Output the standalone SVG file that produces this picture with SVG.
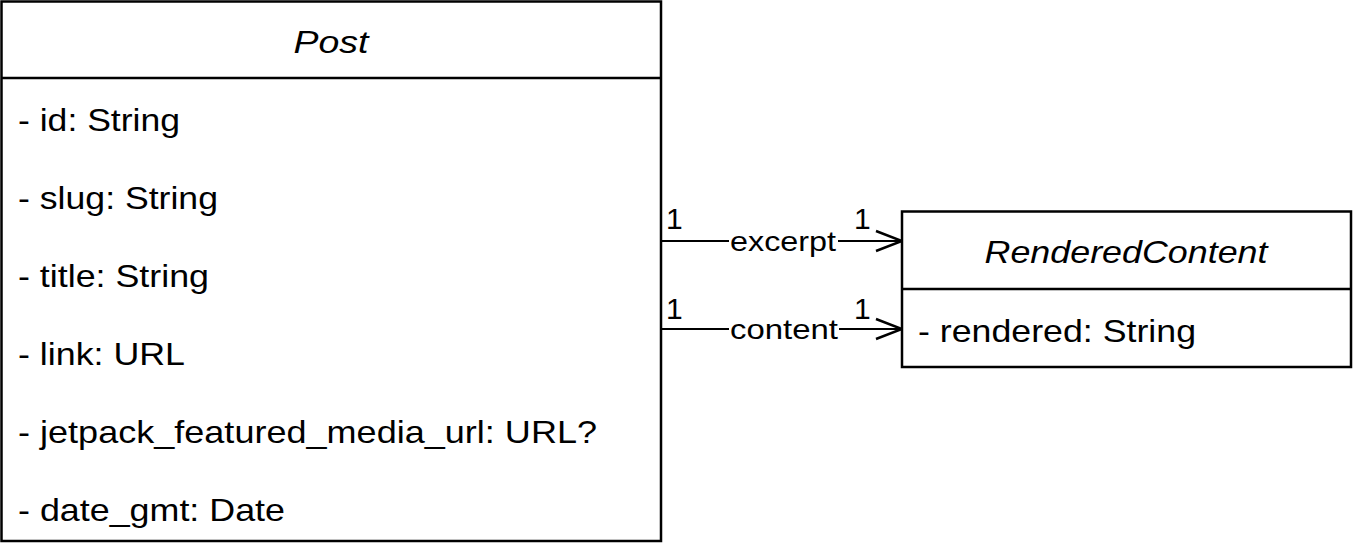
<svg xmlns="http://www.w3.org/2000/svg" width="1353" height="552" viewBox="0 0 1353 552">
<style>
.box{fill:#fff;stroke:#000;stroke-width:2.5}
.div{stroke:#000;stroke-width:2.5}
text{font-family:"Liberation Sans",Arial,Helvetica,sans-serif;font-size:32px;fill:#000}
.t{font-style:italic;text-anchor:middle}
.lbl{text-anchor:middle;font-size:28px}
.m{font-size:30px}
.edge{stroke:#000;stroke-width:2;fill:none}
.lblbg{fill:#fff}
</style>
<defs>
<marker id="open" markerWidth="30" markerHeight="24" refX="28" refY="12" orient="auto" markerUnits="userSpaceOnUse">
<path d="M2,2 L28,12 L2,22" fill="none" stroke="#000" stroke-width="2.5"/>
</marker>
</defs>
<g id="connectors">
<path class="edge" d="M661,241 L902,241" marker-end="url(#open)"/>
<rect class="lblbg" x="729" y="227" width="109" height="30"/>
<text class="lbl" x="783" y="251" textLength="106" lengthAdjust="spacingAndGlyphs">excerpt</text>
<text class="m" x="666" y="229">1</text>
<text class="m" x="854" y="229">1</text>
<path class="edge" d="M661,329 L902,329" marker-end="url(#open)"/>
<rect class="lblbg" x="729" y="315" width="110" height="30"/>
<text class="lbl" x="784" y="339" textLength="108" lengthAdjust="spacingAndGlyphs">content</text>
<text class="m" x="666" y="319">1</text>
<text class="m" x="854" y="319">1</text>
</g>
<g id="Post">
<rect class="box" x="1.5" y="1.5" width="659.5" height="539.5"/>
<line class="div" x1="1.5" y1="78" x2="661" y2="78"/>
<text class="t" x="331" y="53" textLength="75" lengthAdjust="spacingAndGlyphs">Post</text>
<text x="18" y="131" textLength="162" lengthAdjust="spacingAndGlyphs">- id: String</text>
<text x="18" y="209" textLength="200" lengthAdjust="spacingAndGlyphs">- slug: String</text>
<text x="18" y="287" textLength="191" lengthAdjust="spacingAndGlyphs">- title: String</text>
<text x="18" y="365" textLength="167" lengthAdjust="spacingAndGlyphs">- link: URL</text>
<text x="18" y="443" textLength="579" lengthAdjust="spacingAndGlyphs">- jetpack_featured_media_url: URL?</text>
<text x="18" y="521" textLength="267" lengthAdjust="spacingAndGlyphs">- date_gmt: Date</text>
</g>
<g id="RenderedContent">
<rect class="box" x="902" y="211.5" width="449" height="155.5"/>
<line class="div" x1="902" y1="289" x2="1351" y2="289"/>
<text class="t" x="1126" y="263" textLength="283" lengthAdjust="spacingAndGlyphs">RenderedContent</text>
<text x="918" y="342" textLength="278" lengthAdjust="spacingAndGlyphs">- rendered: String</text>
</g>
</svg>
